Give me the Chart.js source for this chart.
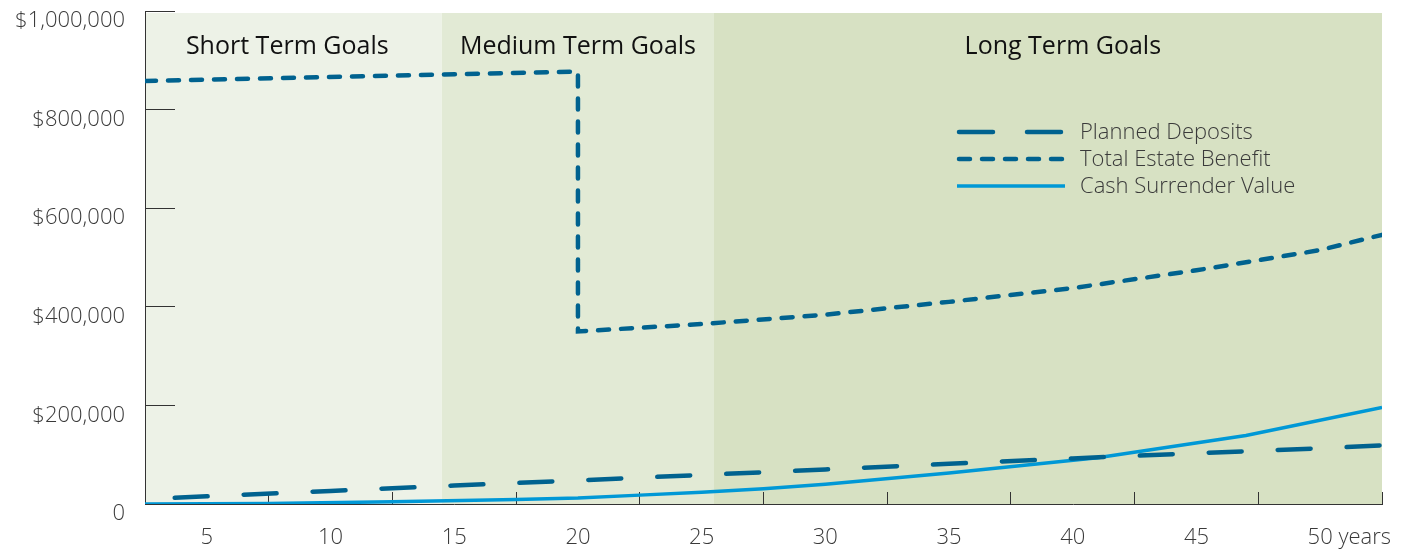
<!DOCTYPE html>
<html><head><meta charset="utf-8">
<script src="https://cdn.jsdelivr.net/npm/chart.js@4"></script>
<style>html,body{margin:0;padding:0;background:#fff;}#wrap{width:1407px;height:552px;position:relative;}</style>
</head><body><div id="wrap"><canvas id="c"></canvas></div>
<script>
const seriesNames = ['Planned Deposits', 'Total Estate Benefit', 'Cash Surrender Value'];
const depositYears  = [3.7, 5, 10, 15, 20, 25, 30, 35, 40, 45, 50, 52.5];
const depositValues = [12500, 15500, 26500, 37500, 48000, 59000, 70000, 81500, 92500, 103000, 113000, 119000];
const estateYears   = [2.5, 20, 20, 25, 30, 35, 40, 45, 50, 52.5];
const estateValues  = [858000, 877000, 350000, 365000, 384000, 410000, 438000, 474000, 515000, 546000];
const cashYears     = [2.5, 7.5, 12.5, 17.5, 20, 22.5, 25, 27.5, 30, 35, 41, 47, 52.5];
const cashValues    = [0, 1000, 4500, 9000, 12000, 18000, 24000, 31000, 40000, 63000, 94000, 139000, 196000];
const xTickLabels = [5, 10, 15, 20, 25, 30, 35, 40, 45, 50];
const xTickMarks  = [2.5, 7.5, 12.5, 17.5, 22.5, 27.5, 32.5, 37.5, 42.5, 47.5, 52.5];
const xUnit = 'years';
const yTicks = [0, 200000, 400000, 600000, 800000, 1000000];
const bandNames   = ['Short Term Goals', 'Medium Term Goals', 'Long Term Goals'];
const bandStart   = [2.5, 14.5, 25.5];
const bandEnd     = [14.5, 25.5, 52.5];
const bandLabelAt = [8.25, 20, 39.6];

const FONT = "'Open Sans', Lato, sans-serif";
const DARK = '#00628f';
const LIGHT = '#0098d6';
const TEXT = '#3a3a3a';
const LABEL_SIZE = 22;
const bandColors = ['#edf2e7', '#e2ead5', '#d7e1c3'];

const pts = (xs, ys) => xs.map((x, i) => ({x, y: ys[i]}));
const noPad = s => { s.paddingTop = 0; s.paddingBottom = 0; s.paddingLeft = 0; s.paddingRight = 0; };

const bandsPlugin = {
  id: 'bands',
  beforeDraw(chart) {
    const {ctx, chartArea, scales: {x}} = chart;
    ctx.save();
    for (let i = 0; i < bandNames.length; i++) {
      const l = x.getPixelForValue(bandStart[i]);
      const r = x.getPixelForValue(bandEnd[i]);
      ctx.fillStyle = bandColors[i];
      ctx.fillRect(l, chartArea.top + 2, r - l, chartArea.bottom - chartArea.top - 2);
    }
    ctx.restore();
  },
  afterDatasetsDraw(chart) {
    const {ctx, chartArea, scales: {x}} = chart;
    ctx.save();
    ctx.font = "500 25px " + FONT;
    ctx.fillStyle = '#111';
    ctx.textAlign = 'center';
    ctx.textBaseline = 'middle';
    for (let i = 0; i < bandNames.length; i++) {
      ctx.fillText(bandNames[i], x.getPixelForValue(bandLabelAt[i]), chartArea.top + 36);
    }
    ctx.restore();
  }
};

const legendPlugin = {
  id: 'innerLegend',
  afterDraw(chart) {
    const {ctx} = chart;
    const x0 = 957, x1 = 1065, tx = 1080, y0 = 132, dy = 27;
    ctx.save();
    chart.data.datasets.forEach((ds, i) => {
      const y = y0 + i * dy;
      ctx.strokeStyle = ds.borderColor;
      ctx.lineWidth = ds.borderWidth;
      ctx.lineCap = ds.borderCapStyle || 'butt';
      ctx.setLineDash(ds.legendDash || []);
      ctx.beginPath();
      ctx.moveTo(x0 + (ds.borderCapStyle === 'round' ? 2 : 0), y);
      ctx.lineTo(x1, y);
      ctx.stroke();
      ctx.setLineDash([]);
      ctx.font = "300 " + LABEL_SIZE + "px " + FONT;
      ctx.fillStyle = TEXT;
      ctx.textAlign = 'left';
      ctx.textBaseline = 'middle';
      ctx.fillText(ds.label, tx, y + 1);
    });
    ctx.restore();
  }
};

const unitPlugin = {
  id: 'xUnit',
  afterDraw(chart) {
    const {ctx, scales: {x}} = chart;
    const o = x.options;
    ctx.save();
    ctx.font = "300 " + LABEL_SIZE + "px " + FONT;
    ctx.fillStyle = TEXT;
    ctx.textAlign = 'left';
    ctx.textBaseline = 'middle';
    const last = xTickLabels[xTickLabels.length - 1];
    const px = x.getPixelForValue(last) + ctx.measureText(String(last)).width / 2 + ctx.measureText(' ').width;
    const py = x.top + o.grid.tickLength + o.ticks.padding + LABEL_SIZE * 0.6;
    ctx.fillText(xUnit, px, py);
    ctx.restore();
  }
};

new Chart(document.getElementById('c'), {
  type: 'line',
  data: {
    datasets: [
      {label: seriesNames[0], data: pts(depositYears, depositValues), borderColor: DARK, borderWidth: 4.5,
       borderDash: [33, 36], legendDash: [34, 34], borderCapStyle: 'round'},
      {label: seriesNames[1], data: pts(estateYears, estateValues), borderColor: DARK, borderWidth: 4.5,
       borderDash: [11, 12], legendDash: [11, 12], borderCapStyle: 'round'},
      {label: seriesNames[2], data: pts(cashYears, cashValues), borderColor: LIGHT, borderWidth: 3.5,
       borderCapStyle: 'butt'}
    ]
  },
  options: {
    responsive: true,
    maintainAspectRatio: false,
    animation: false,
    layout: {padding: {left: 0, right: 25, top: 11, bottom: 0}},
    elements: {point: {radius: 0}, line: {tension: 0, fill: false}},
    plugins: {legend: {display: false}, tooltip: {enabled: false}},
    scales: {
      x: {
        type: 'linear', min: 2.5, max: 52.5,
        afterBuildTicks: s => { s.ticks = [...xTickMarks, ...xTickLabels].sort((a, b) => a - b).map(v => ({value: v})); },
        afterFit: s => { s.height = 48; noPad(s); },
        ticks: {autoSkip: false, maxRotation: 0, padding: 33, color: TEXT,
                font: {family: FONT, size: LABEL_SIZE, weight: 300},
                callback: v => xTickLabels.includes(v) ? String(v) : ''},
        grid: {drawOnChartArea: false, tickLength: -12, tickWidth: 1,
               tickColor: c => (c.tick && xTickMarks.includes(c.tick.value)) ? '#333' : 'rgba(0,0,0,0)'},
        border: {color: '#333', width: 1}
      },
      y: {
        type: 'linear', min: 0, max: 1000000,
        afterBuildTicks: s => { s.ticks = yTicks.map(v => ({value: v})); },
        afterFit: s => { s.width = 145; noPad(s); },
        ticks: {padding: 50, labelOffset: 10, color: TEXT,
                font: {family: FONT, size: LABEL_SIZE, weight: 300},
                callback: v => v === 0 ? '0' : '$' + v.toLocaleString('en-US')},
        grid: {drawOnChartArea: false, tickLength: -30, tickWidth: 1, tickColor: '#333'},
        border: {color: '#333', width: 1}
      }
    }
  },
  plugins: [bandsPlugin, legendPlugin, unitPlugin]
});
</script></body></html>
